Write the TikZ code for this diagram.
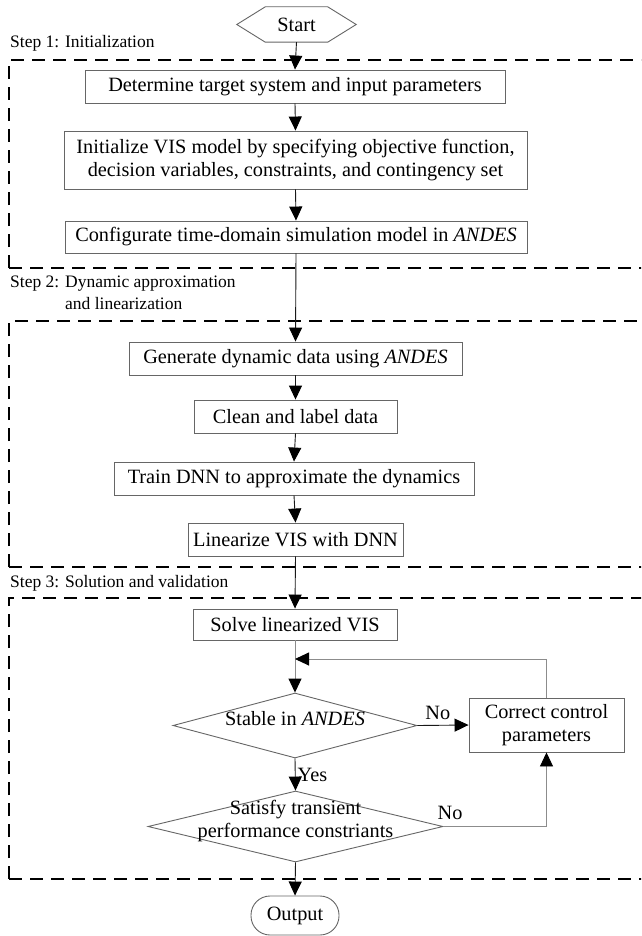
\documentclass[tikz,border=0pt]{standalone}
\usepackage{fontspec}
\setmainfont{Liberation Serif}
\usetikzlibrary{arrows.meta,shapes.geometric,calc}
\tikzset{
  boxline/.style={draw=black!60,line width=0.9pt},
  proc/.style={boxline,rectangle,inner sep=0pt,align=center,font=\fontsize{20.3}{23.5}\selectfont},
  dec/.style={boxline,diamond,inner sep=0pt,font=\fontsize{20.3}{23.5}\selectfont},
  flow/.style={draw=black!90,line width=0.9pt,-{Triangle[length=14pt,width=13pt,color=black]}},
  flowg/.style={draw=black!45,line width=0.9pt,-{Triangle[length=14pt,width=13pt,color=black]}},
  stage/.style={draw=black,line width=2.2pt,dash pattern=on 13pt off 8pt},
  steplabel/.style={anchor=west,inner sep=0pt,font=\fontsize{17.5}{22}\selectfont},
  lab/.style={inner sep=0pt,font=\fontsize{20.3}{23.5}\selectfont}
}
\begin{document}
\begin{tikzpicture}[x=1pt,y=-1pt]
\clip (0,0) rectangle (641,936);
\fill[white] (0,0) rectangle (641,936);

% stage frames
\draw[stage] (9,268) -- (9,60) -- (660,60);
\draw[stage] (9,268) -- (660,268);
\draw[stage] (9,567) -- (9,321) -- (660,321);
\draw[stage] (9,567) -- (660,567);
\draw[stage] (9,879) -- (9,598) -- (660,598);
\draw[stage] (9,879) -- (660,879);

\node[steplabel] (st1) at (10,43) {Step 1: Initialization};
\node[steplabel,anchor=north west] (st2) at (10,272) {\begin{tabular}{@{}l@{ }l@{}}Step 2:&Dynamic approximation\\ &and linearization\end{tabular}};
\node[steplabel] (st3) at (10,583) {Step 3: Solution and validation};

% start hexagon
\node[minimum width=119pt,minimum height=35pt,inner sep=0pt,font=\fontsize{20.3}{23.5}\selectfont] (start) at (296.5,24.5) {Start};
\draw[boxline] (start.west) -- ($(start.north west)+(28.5,0)$) -- ($(start.north east)+(-28.5,0)$)
  -- (start.east) -- ($(start.south east)+(-28.5,0)$) -- ($(start.south west)+(28.5,0)$) -- cycle;

\node[proc,minimum width=420pt,minimum height=33pt] (b1) at (295,86.5) {Determine target system and input parameters};
\node[proc,minimum width=463pt,minimum height=58pt] (b2) at (295.5,160) {Initialize VIS model by specifying objective function,\\decision variables, constraints, and contingency set};
\node[proc,minimum width=462pt,minimum height=32pt] (b3) at (296,237) {Configurate time-domain simulation model in \textit{ANDES}};

\node[proc,minimum width=333pt,minimum height=33pt] (g) at (295.5,358.5) {Generate dynamic data using \textit{ANDES}};
\node[proc,minimum width=203pt,minimum height=33pt] (c) at (295.5,416.5) {Clean and label data};
\node[proc,minimum width=360pt,minimum height=33pt] (t) at (294,478.5) {Train DNN to approximate the dynamics};
\node[proc,minimum width=215pt,minimum height=33pt] (l) at (295.5,539.5) {Linearize VIS with DNN};

\node[proc,minimum width=204pt,minimum height=31pt] (s) at (295,624.5) {Solve linearized VIS};
\node[dec,minimum width=244pt,minimum height=65pt] (d1) at (295,725.5) {\smash{\makebox[0pt]{Stable in \textit{ANDES}}}};
\node[dec,minimum width=295pt,minimum height=71pt] (d2) at (295.5,826.5) {\smash{\makebox[0pt]{\begin{tabular}{@{}c@{}}Satisfy transient\\[-1pt]performance constriants\end{tabular}}}};
\node[proc,minimum width=155pt,minimum height=54pt] (cc) at (546.5,725) {Correct control\\parameters};
\node[proc,minimum width=88pt,minimum height=39pt,rounded corners=19pt] (out) at (295,915.5) {Output};

% connectors
\draw[flow] (start.south) -- (b1.north);
\draw[flow] (b1.south) -- (b2.north);
\draw[flow] (b2.south) -- (b3.north);
\draw[flow] (b3.south) -- (g.north);
\draw[flow] (g.south) -- (c.north);
\draw[flow] (c.south) -- (t.north);
\draw[flow] (t.south) -- (l.north);
\draw[flow] (l.south) -- (s.north);
\draw[flowg] (s.south) -- (d1.north);
\coordinate (join) at (s.south |- 0,659);
\draw[flowg] (cc.north) |- (join);
\draw[flow] (d1.east) -- (cc.west) node[lab,pos=0.4,above=5pt] (no1) {No};
\draw[flow] (d1.south) -- (d2.north) node[lab,midway,right=2pt] (yes) {Yes};
\draw[flowg] (d2.east) -| (cc.south);
\node[lab] (no2) at (450,813) {No};
\draw[flow] (d2.south) -- (out.north);
\end{tikzpicture}
\end{document}
